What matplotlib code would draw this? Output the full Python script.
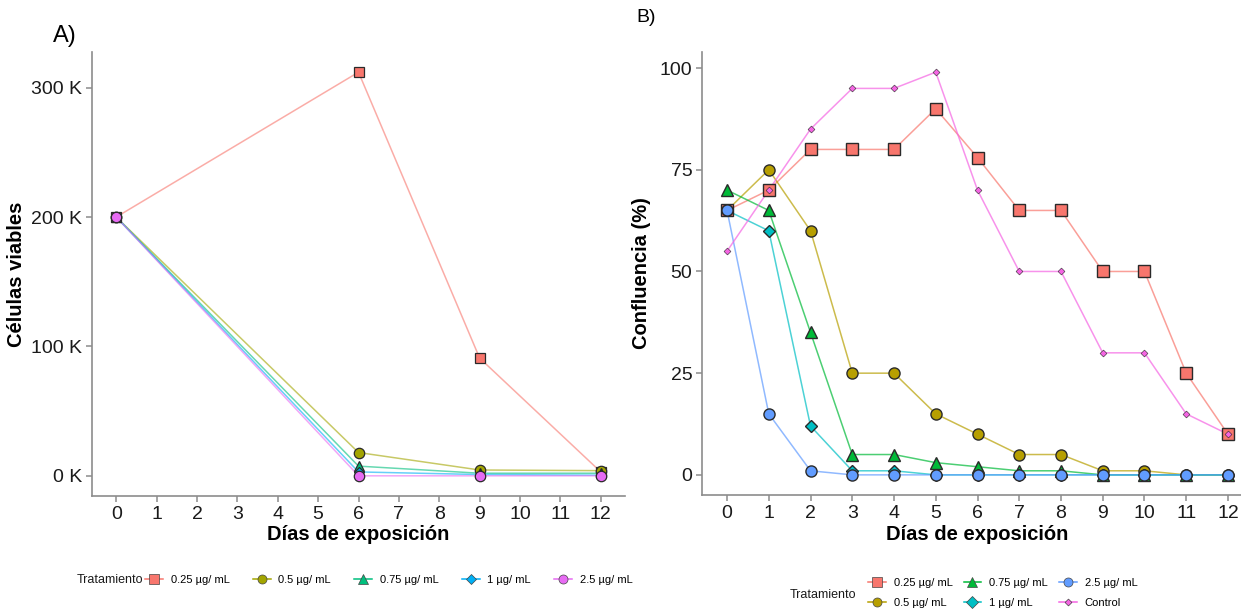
import matplotlib
matplotlib.use("Agg")
import matplotlib.pyplot as plt
from matplotlib.lines import Line2D

plt.rcParams['font.family'] = ['Liberation Sans', 'DejaVu Sans']

# ---------------- Data ----------------
days_a = [0, 6, 9, 12]
labels_a = ["0.25 µg/ mL", "0.5 µg/ mL", "0.75 µg/ mL", "1 µg/ mL", "2.5 µg/ mL"]
a_025 = [200000, 312000, 91000, 3000]
a_05 = [200000, 18000, 4500, 4000]
a_075 = [200000, 7500, 2000, 2000]
a_1 = [200000, 3000, 1000, 500]
a_25 = [200000, 0, 0, 0]
colors_a = ["#F8766D", "#A3A500", "#00BF7D", "#00B0F6", "#E76BF3"]
markers_a = ["s", "o", "^", "D", "o"]

days_b = list(range(13))
labels_b = ["0.25 µg/ mL", "0.5 µg/ mL", "0.75 µg/ mL", "1 µg/ mL", "2.5 µg/ mL", "Control"]
b_025 = [65, 70, 80, 80, 80, 90, 78, 65, 65, 50, 50, 25, 10]
b_05 = [65, 75, 60, 25, 25, 15, 10, 5, 5, 1, 1, 0, 0]
b_075 = [70, 65, 35, 5, 5, 3, 2, 1, 1, 0, 0, 0, 0]
b_1 = [65, 60, 12, 1, 1, 0, 0, 0, 0, 0, 0, 0, 0]
b_25 = [65, 15, 1, 0, 0, 0, 0, 0, 0, 0, 0, 0, 0]
b_ctrl = [55, 70, 85, 95, 95, 99, 70, 50, 50, 30, 30, 15, 10]
colors_b = ["#F8766D", "#B79F00", "#00BA38", "#00BFC4", "#619CFF", "#F564E3"]
markers_b = ["s", "o", "^", "D", "o", "D"]
msize_b = [8.5, 8, 8.5, 6.5, 8, 3.5]

W, H = 1241, 611
fig = plt.figure(figsize=(W / 100, H / 100), dpi=100)

def ax_at(x0, y0, x1, y1):
    return fig.add_axes([x0 / W, 1 - y1 / H, (x1 - x0) / W, (y1 - y0) / H])

spine_col = "#8c8c8c"

def style(ax):
    for s in ["top", "right"]:
        ax.spines[s].set_visible(False)
    for s in ["left", "bottom"]:
        ax.spines[s].set_color(spine_col)
        ax.spines[s].set_linewidth(1.2)
    ax.tick_params(axis="both", colors=spine_col, labelcolor="#1a1a1a",
                   labelsize=14, length=4, width=1.1, pad=3)

# ---------------- Panel A ----------------
axA = ax_at(92, 52, 625, 496)
series_a = [a_025, a_05, a_075, a_1, a_25]
for vals, c in zip(series_a, colors_a):
    axA.plot(days_a, vals, color=c, lw=1.1, alpha=0.6, zorder=2)
for vals, c, m in zip(series_a, colors_a, markers_a):
    axA.plot(days_a, vals, linestyle="none", marker=m, markersize=7.5 if m != "D" else 5.5,
             markerfacecolor=c, markeredgecolor="#2a2a2a", markeredgewidth=0.9, zorder=3)
axA.set_xlim(-0.6, 12.6)
axA.set_ylim(-15600, 327600)
axA.set_xticks(range(13))
axA.set_yticks([0, 100000, 200000, 300000])
axA.set_yticklabels(["0 K", "100 K", "200 K", "300 K"])
style(axA)
axA.set_xlabel("Días de exposición", fontsize=14.5, fontweight="bold", labelpad=2)
axA.set_ylabel("Células viables", fontsize=14.5, fontweight="bold", labelpad=4)
fig.text(53 / W, 1 - 36 / H, "A)", fontsize=17, va="center", ha="left")

handlesA = [Line2D([0], [0], color=c, lw=1.1, marker=m, markersize=6.5 if m != "D" else 5,
                   markerfacecolor=c, markeredgecolor="#444444", markeredgewidth=0.5)
            for c, m in zip(colors_a, markers_a)]
fig.text(77 / W, 1 - 580 / H, "Tratamiento", fontsize=9, va="center", ha="left", color="#1a1a1a")
fig.legend(handlesA, labels_a, loc="center left", bbox_to_anchor=(145 / W, 1 - 580 / H),
           ncol=5, frameon=False, fontsize=8, handlelength=1.6, handletextpad=0.7,
           columnspacing=2.1, borderaxespad=0, borderpad=0)

# ---------------- Panel B ----------------
axB = ax_at(702, 52, 1253, 495)
series_b = [b_025, b_05, b_075, b_1, b_25, b_ctrl]
for vals, c in zip(series_b, colors_b):
    axB.plot(days_b, vals, color=c, lw=1.1, alpha=0.7, zorder=2)
for vals, c, m, ms in zip(series_b, colors_b, markers_b, msize_b):
    axB.plot(days_b, vals, linestyle="none", marker=m, markersize=ms,
             markerfacecolor=c, markeredgecolor="#2a2a2a",
             markeredgewidth=1.0 if ms > 4 else 0.4, zorder=3)
axB.set_xlim(-0.6, 12.6)
axB.set_ylim(-4.95, 103.95)
axB.set_xticks(range(13))
axB.set_yticks([0, 25, 50, 75, 100])
style(axB)
axB.set_xlabel("Días de exposición", fontsize=14.5, fontweight="bold", labelpad=2)
axB.set_ylabel("Confluencia (%)", fontsize=14.5, fontweight="bold", labelpad=6)
fig.text(636 / W, 1 - 18 / H, "B)", fontsize=14, va="center", ha="left")

handlesB = [Line2D([0], [0], color=c, lw=1.1, marker=m, markersize=6.5 if ms > 4 else 3.5,
                   markerfacecolor=c, markeredgecolor="#444444", markeredgewidth=0.5)
            for c, m, ms in zip(colors_b, markers_b, msize_b)]
fig.text(790 / W, 1 - 595 / H, "Tratamiento", fontsize=9, va="center", ha="left", color="#1a1a1a")
fig.legend(handlesB, labels_b, loc="center left", bbox_to_anchor=(868 / W, 1 - 593 / H),
           ncol=3, frameon=False, fontsize=8, handlelength=1.6, handletextpad=0.7,
           columnspacing=1.0, labelspacing=0.9, borderaxespad=0, borderpad=0)

fig.savefig("out.png", dpi=100)
